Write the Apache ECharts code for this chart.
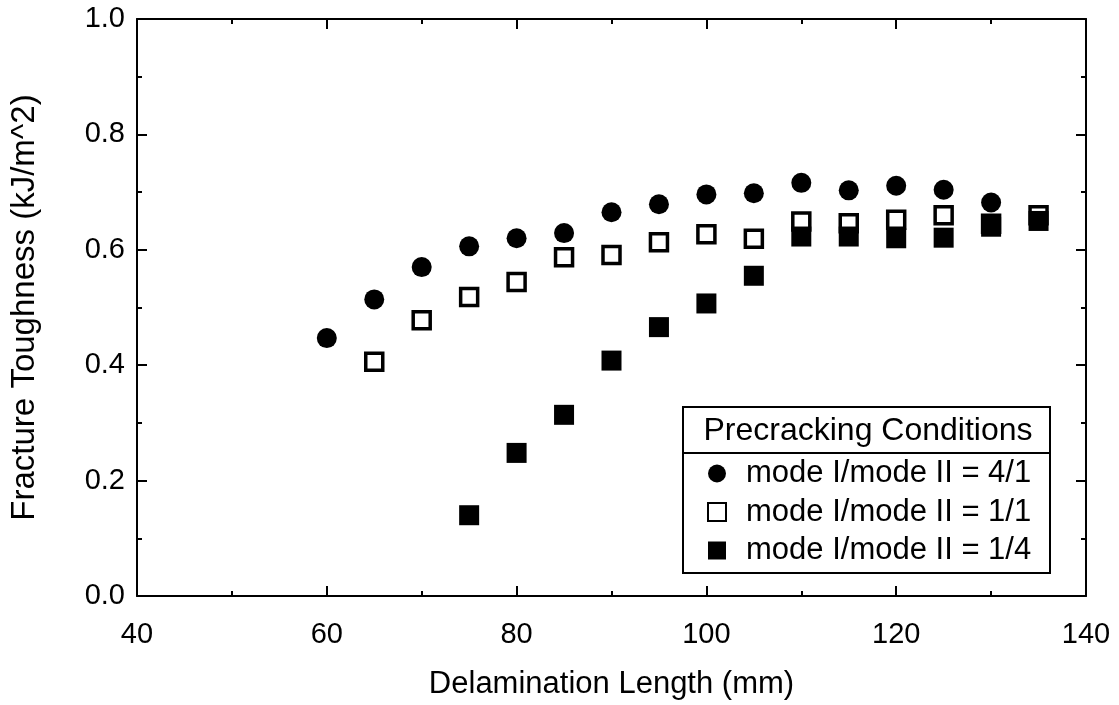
<!DOCTYPE html>
<html>
<head>
<meta charset="utf-8">
<script src="https://cdn.jsdelivr.net/npm/echarts@6/dist/echarts.min.js"></script>
<style>
html,body{margin:0;padding:0;background:#fff;}
#chart{width:1119px;height:705px;}
</style>
</head>
<body>
<div id="chart"></div>
<script>
// Data
const xMode41 = [60, 65, 70, 75, 80, 85, 90, 95, 100, 105, 110, 115, 120, 125, 130];
const yMode41 = [0.447, 0.514, 0.570, 0.606, 0.620, 0.629, 0.665, 0.679, 0.696, 0.698, 0.716, 0.703, 0.711, 0.704, 0.682];

const xMode11 = [65, 70, 75, 80, 85, 90, 95, 100, 105, 110, 115, 120, 125, 130, 135];
const yMode11 = [0.406, 0.478, 0.518, 0.544, 0.587, 0.591, 0.613, 0.627, 0.619, 0.649, 0.646, 0.652, 0.660, 0.645, 0.660];

const xMode14 = [75, 80, 85, 90, 95, 100, 105, 110, 115, 120, 125, 130, 135];
const yMode14 = [0.140, 0.248, 0.314, 0.408, 0.466, 0.507, 0.555, 0.623, 0.623, 0.620, 0.621, 0.640, 0.650];

const seriesNames = ['mode I/mode II = 4/1', 'mode I/mode II = 1/1', 'mode I/mode II = 1/4'];
const legendTitle = 'Precracking Conditions';
const xTitle = 'Delamination Length (mm)';
const yTitle = 'Fracture Toughness (kJ/m^2)';

const pairs = (xs, ys) => xs.map((x, i) => [x, ys[i]]);

const FONT = '"Liberation Sans", Arial, Helvetica, sans-serif';
const axisCommon = {
  axisLine: { show: true, onZero: false, lineStyle: { color: '#000', width: 2 } },
  axisTick: { show: true, inside: true, length: 10, lineStyle: { color: '#000', width: 2 } },
  minorTick: { show: true, splitNumber: 2, length: 5, lineStyle: { color: '#000', width: 2 } },
  splitLine: { show: false },
  minorSplitLine: { show: false }
};

const chart = echarts.init(document.getElementById('chart'), null, { renderer: 'canvas' });
chart.setOption({
  backgroundColor: '#fff',
  animation: false,
  grid: { left: 137, right: 33, top: 19, bottom: 105, containLabel: false },
  xAxis: [
    Object.assign({
      type: 'value', min: 40, max: 140, interval: 20, position: 'bottom',
      name: xTitle, nameLocation: 'middle', nameGap: 73,
      nameTextStyle: { fontFamily: FONT, fontSize: 31, color: '#000' },
      axisLabel: { fontFamily: FONT, fontSize: 29, color: '#000', margin: 24 }
    }, axisCommon),
    Object.assign({
      type: 'value', min: 40, max: 140, interval: 20, position: 'top',
      axisLabel: { show: false }
    }, axisCommon)
  ],
  yAxis: [
    Object.assign({
      type: 'value', min: 0, max: 1.0, interval: 0.2, position: 'left',
      name: yTitle, nameLocation: 'middle', nameGap: 96,
      nameTextStyle: { fontFamily: FONT, fontSize: 33, color: '#000' },
      axisLabel: { fontFamily: FONT, fontSize: 29, color: '#000', margin: 12,
        formatter: v => v.toFixed(1) }
    }, axisCommon),
    Object.assign({
      type: 'value', min: 0, max: 1.0, interval: 0.2, position: 'right',
      axisLabel: { show: false }
    }, axisCommon)
  ],
  legend: {
    orient: 'vertical',
    left: 702, top: 453,
    itemWidth: 18, itemHeight: 18,
    itemGap: 7.5,
    selectedMode: false,
    textStyle: { fontFamily: FONT, fontSize: 31, color: '#000', lineHeight: 30,
      padding: [0, 0, 0, 15] },
    data: seriesNames
  },
  graphic: [
    { type: 'rect', shape: { x: 683, y: 407, width: 367, height: 166 },
      style: { fill: '#fff', stroke: '#000', lineWidth: 2 }, z: 0 },
    { type: 'line', shape: { x1: 683, y1: 453, x2: 1050, y2: 453 },
      style: { stroke: '#000', lineWidth: 2 }, z: 1 },
    { type: 'text', x: 868, y: 431,
      style: { text: legendTitle, fontFamily: FONT, fontSize: 32, fill: '#000',
        textAlign: 'center', textVerticalAlign: 'middle' }, z: 2 }
  ],
  series: [
    { name: seriesNames[0], type: 'scatter', symbol: 'circle', symbolSize: 20,
      itemStyle: { color: '#000', opacity: 1 }, data: pairs(xMode41, yMode41), z: 3 },
    { name: seriesNames[1], type: 'scatter', symbol: 'rect', symbolSize: 17,
      itemStyle: { color: '#fff', borderColor: '#000', borderWidth: 3.5, opacity: 1 },
      data: pairs(xMode11, yMode11), z: 4 },
    { name: seriesNames[2], type: 'scatter', symbol: 'rect', symbolSize: 20,
      itemStyle: { color: '#000', opacity: 1 }, data: pairs(xMode14, yMode14), z: 5 }
  ]
});
</script>
</body>
</html>
